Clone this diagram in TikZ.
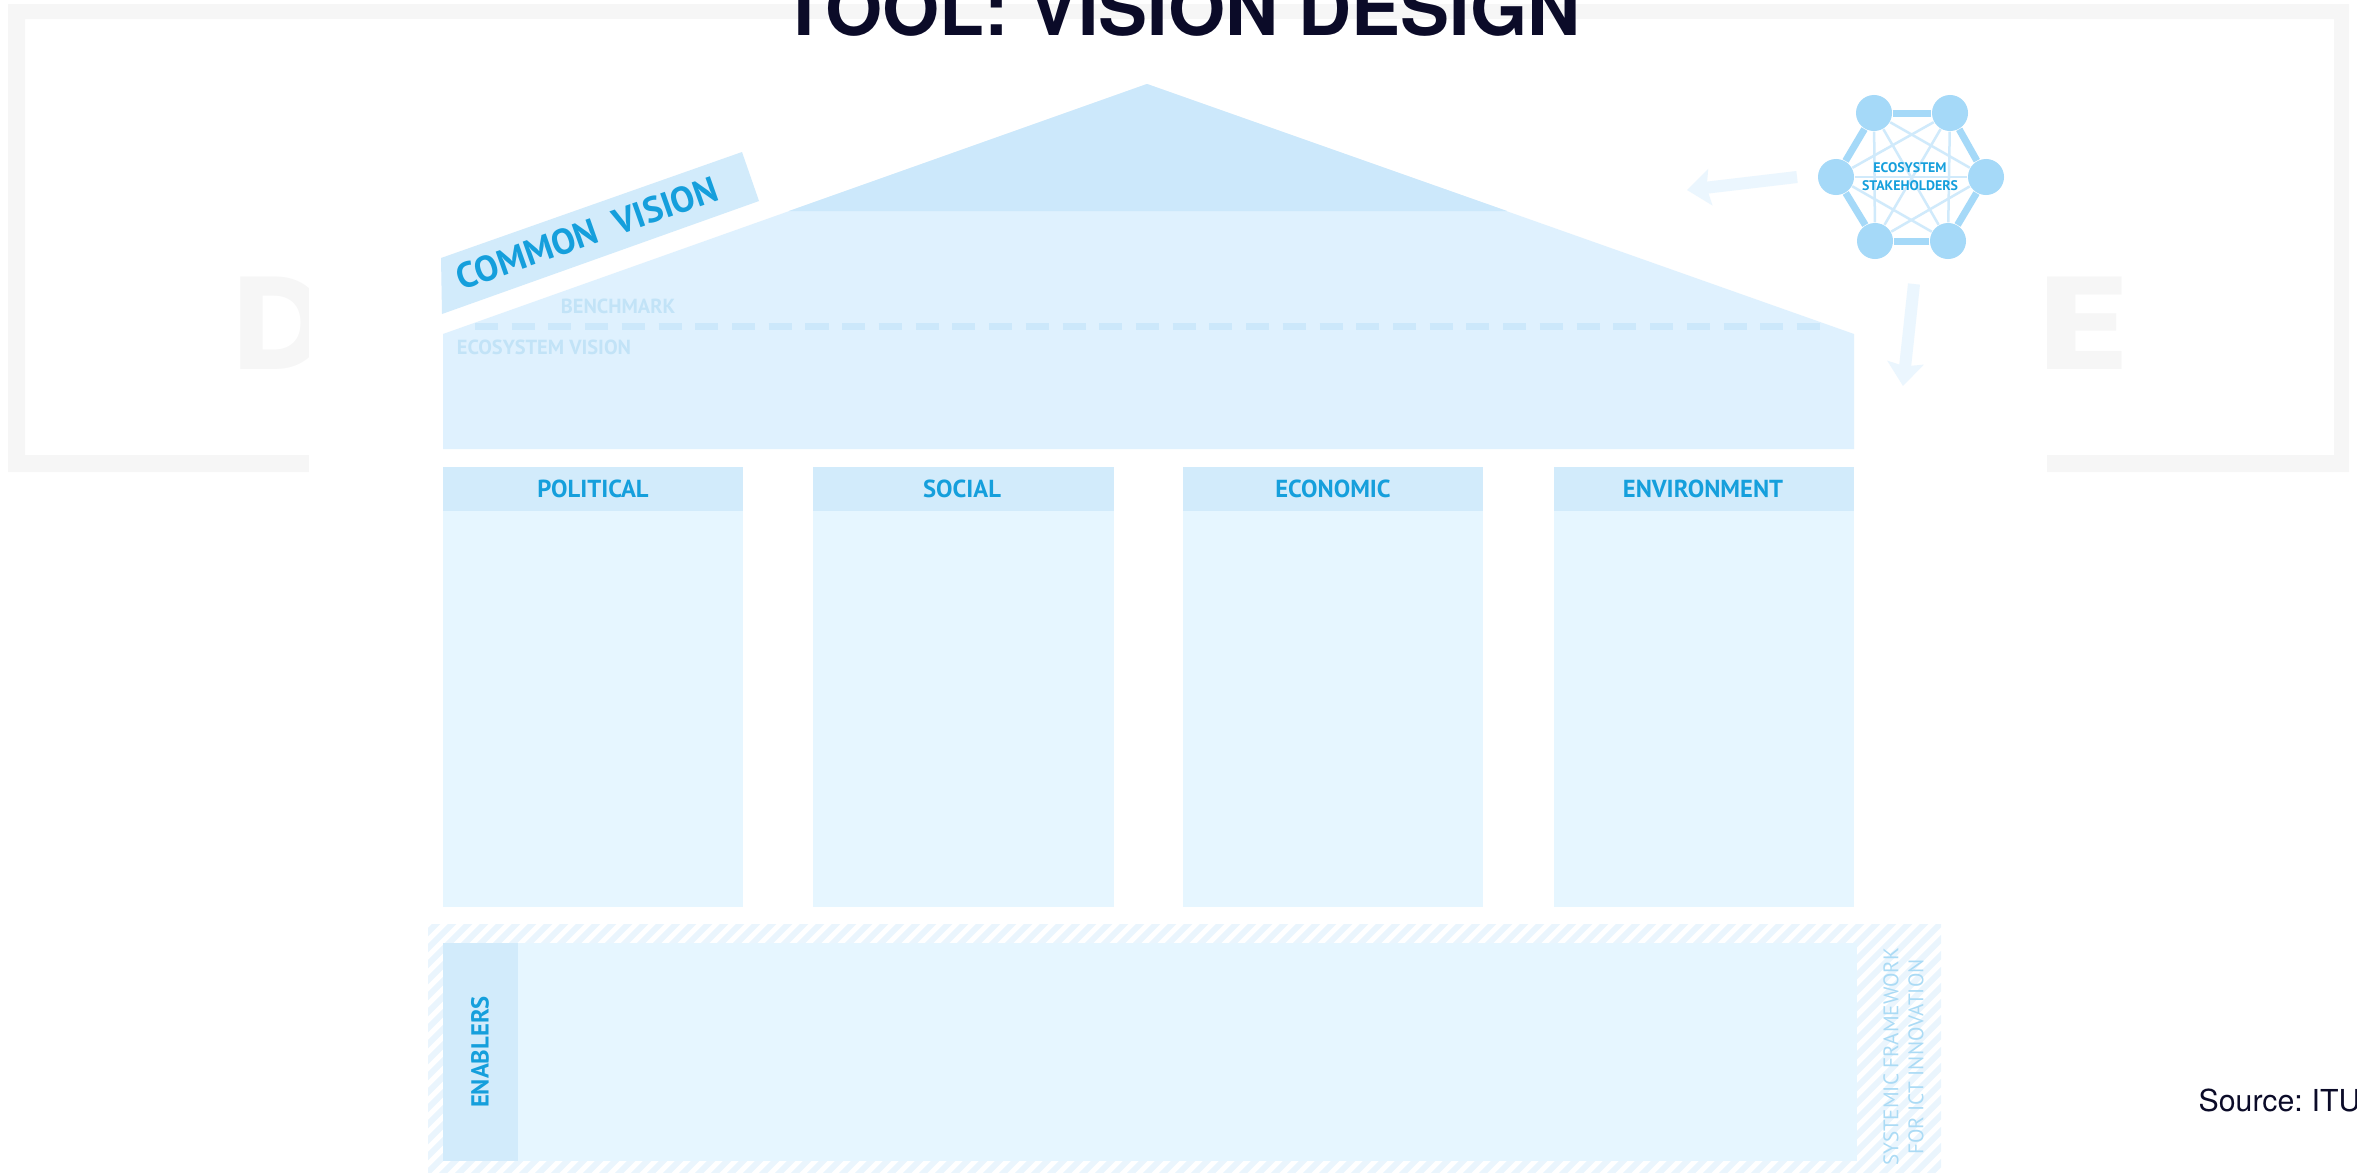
\documentclass[tikz,border=0pt]{standalone}
\usepackage{fontspec}
\usepackage{tikz}
\usetikzlibrary{arrows.meta}
\setmainfont{PT Sans}
\newfontfamily\headfont{TeX Gyre Heros}
\newfontfamily\letterfont{Poppins}
\newcommand{\fsize}[1]{\fontsize{#1}{#1}\selectfont}
\definecolor{framegray}{HTML}{F6F6F6}
\definecolor{bodyblue}{HTML}{DFF1FE}
\definecolor{roofblue}{HTML}{CCE8FB}
\definecolor{headblue}{HTML}{D2EBFB}
\definecolor{columnblue}{HTML}{E6F6FF}
\definecolor{hatchblue}{HTML}{EAF5FD}
\definecolor{labelblue}{HTML}{159FDC}
\definecolor{paleblue}{HTML}{C2E3F7}
\definecolor{sideblue}{HTML}{ABDBF5}
\definecolor{hubblue}{HTML}{A5D9F8}
\definecolor{spokeblue}{HTML}{D0EAFB}
\definecolor{arrowblue}{HTML}{EBF6FE}
\definecolor{inkblue}{HTML}{0B0B28}
\tikzset{
  headlabel/.style={text=labelblue,font=\bfseries\fsize{7},inner sep=0pt},
  palelabel/.style={text=paleblue,font=\bfseries\fsize{5.8},inner sep=0pt},
  sidelabel/.style={text=sideblue,font=\fsize{6},inner sep=0pt,rotate=90},
  hubnode/.style={circle,fill=hubblue,minimum size=0.36cm,inner sep=0pt},
  hubrim/.style={hubblue,line width=0.07cm},
  hubspoke/.style={spokeblue,line width=0.025cm},
  hublabel/.style={text=labelblue,font=\bfseries\fsize{3.95},inner sep=0pt},
  bigletter/.style={text=framegray,font=\letterfont\bfseries\fsize{37.5},inner sep=0pt,anchor=base west},
  hubarrow/.style={arrowblue,line width=0.12cm,-{Stealth[length=6.6pt,width=10.2pt,inset=1pt]}},
}
\begin{document}
\begin{tikzpicture}[x=0.01cm,y=-0.01cm]
\useasboundingbox (0,0) rectangle (2357,1172);
\fill[framegray,even odd rule] (8,4) rectangle (2349,472) (25,19) rectangle (2334,455); % Frame
\node[bigletter] (letterD) at (232,369) {D};
\node[bigletter] (letterE) at (2034,369) {\scalebox{1.35}[1]{E}};
\fill[white] (309,19) rectangle (2047,480); % Frame.gap
\fill[bodyblue] (1147,84) -- (1854,334) -- (1854,449) -- (443,449) -- (443,334) -- cycle; % House
\fill[roofblue] (1147,84) -- (1507,211) -- (789,211) -- cycle; % Roof
\fill[headblue] (441,258) -- (742,152) -- (759,201) -- (442,314) -- cycle; % Banner
\node[text=labelblue,font=\bfseries\fsize{10.2},inner sep=0pt,rotate=19.4] (commonvision) at (587,233) {COMMON\ \ VISION};
\node[palelabel] (benchmark) at (618,306) {BENCHMARK};
\node[palelabel] (ecovision) at (544,347) {ECOSYSTEM VISION};
\coordinate (dashA) at (475,326);
\coordinate (dashB) at (1822,326);
\draw[roofblue,line width=0.07cm,dash pattern=on 0.23cm off 0.137cm] (dashA) -- (dashB); % Benchmark.line
\fill[columnblue] (443,467) rectangle (743,907); % Column.0
\fill[columnblue] (813,467) rectangle (1114,907); % Column.1
\fill[columnblue] (1183,467) rectangle (1483,907); % Column.2
\fill[columnblue] (1554,467) rectangle (1854,907); % Column.3
\fill[headblue] (443,467) rectangle (743,511); % Head.0
\fill[headblue] (813,467) rectangle (1114,511); % Head.1
\fill[headblue] (1183,467) rectangle (1483,511); % Head.2
\fill[headblue] (1554,467) rectangle (1854,511); % Head.3
\node[headlabel] (political) at (593,489) {POLITICAL};
\node[headlabel] (social) at (962,489) {SOCIAL};
\node[headlabel] (economic) at (1333,489) {ECONOMIC};
\node[headlabel] (environment) at (1703,489) {ENVIRONMENT};
\begin{scope}
\clip (428,924) rectangle (1941,1172);
\foreach \hx in {148,164,...,1960}
  \draw[hatchblue,line width=0.06cm] (\hx,1180) -- ++(264,-264); % Hatch
\end{scope}
\fill[columnblue] (518,943) rectangle (1857,1161); % Base
\fill[headblue] (443,943) rectangle (518,1161); % Enablers
\node[headlabel,rotate=90] (enablers) at (480,1052) {ENABLERS};
\node[sidelabel] (systemic) at (1891,1057) {SYSTEMIC FRAMEWORK};
\node[sidelabel] (forict) at (1916,1057) {FOR ICT INNOVATION};
\node[hubnode] (hubA) at (1874,113) {};
\node[hubnode] (hubB) at (1950,113) {};
\node[hubnode] (hubC) at (1986,177) {};
\node[hubnode] (hubD) at (1948,241) {};
\node[hubnode] (hubE) at (1875,241) {};
\node[hubnode] (hubF) at (1836,177) {};
\draw[hubrim] (hubA) -- (hubB); % Rim
\draw[hubrim] (hubB) -- (hubC); % Rim
\draw[hubrim] (hubC) -- (hubD); % Rim
\draw[hubrim] (hubD) -- (hubE); % Rim
\draw[hubrim] (hubE) -- (hubF); % Rim
\draw[hubrim] (hubF) -- (hubA); % Rim
\draw[hubspoke] (hubA) -- (hubC); % Spoke
\draw[hubspoke] (hubA) -- (hubD); % Spoke
\draw[hubspoke] (hubA) -- (hubE); % Spoke
\draw[hubspoke] (hubB) -- (hubD); % Spoke
\draw[hubspoke] (hubB) -- (hubE); % Spoke
\draw[hubspoke] (hubB) -- (hubF); % Spoke
\draw[hubspoke] (hubC) -- (hubE); % Spoke
\draw[hubspoke] (hubC) -- (hubF); % Spoke
\draw[hubspoke] (hubD) -- (hubF); % Spoke
\node[hublabel] (stakeA) at (1910,168) {ECOSYSTEM};
\node[hublabel] (stakeB) at (1910,186) {STAKEHOLDERS};
\coordinate (leftA) at (1797,177);
\coordinate (leftB) at (1687,190);
\coordinate (downA) at (1914,284);
\coordinate (downB) at (1903,386);
\draw[hubarrow] (leftA) -- (leftB); % Arrow.left
\draw[hubarrow] (downA) -- (downB); % Arrow.down
\node[text=inkblue,font=\headfont\bfseries\fsize{20.9},inner sep=0pt,anchor=base] (title) at (1181,35) {TOOL: VISION DESIGN};
\node[text=inkblue,font=\headfont\fsize{8.6},inner sep=0pt,anchor=base west] (source) at (2198,1111) {\spaceskip=0.2em Source: ITU};
\end{tikzpicture}
\end{document}
